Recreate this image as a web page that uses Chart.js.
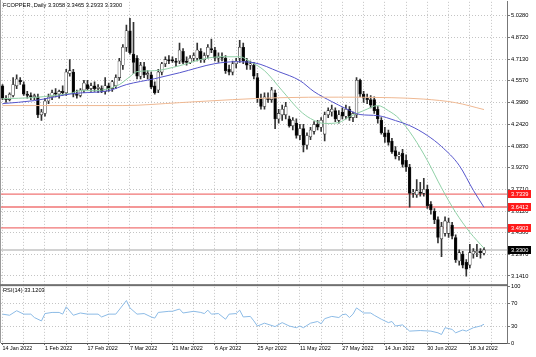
<!DOCTYPE html>
<html><head><meta charset="utf-8">
<script src="https://cdn.jsdelivr.net/npm/chart.js@4.4.1/dist/chart.umd.min.js"></script>
<style>
html,body{margin:0;padding:0;background:#fff;}
#wrap{position:relative;width:536px;height:357px;overflow:hidden;background:#fff;}
canvas{position:absolute;left:0;top:0;}
.lbl{position:absolute;font-family:"Liberation Sans",Arial,sans-serif;font-size:5.7px;color:#000;white-space:nowrap;line-height:1;}
</style></head><body>
<div id="wrap"><canvas id="c" width="536" height="357"></canvas>
<div class="lbl" id="title" style="left:3px;top:3px;"></div>
<div class="lbl" id="rsiTitle" style="left:3px;top:288px;"></div>
</div>
<script>
// ---- data ----
const tickLabels = ['14 Jan 2022','1 Feb 2022','17 Feb 2022','7 Mar 2022','21 Mar 2022','6 Apr 2022','25 Apr 2022','11 May 2022','27 May 2022','14 Jun 2022','30 Jun 2022','18 Jul 2022'];
const tickIdx = [0,12,24,36,48,60,72,84,96,108,120,132];
const gridIdx = [0,6,12,18,24,30,36,42,48,54,60,66,72,78,84,90,96,102,108,114,120,126,132,138];
const priceTicks = [5.028,4.872,4.713,4.557,4.398,4.242,4.083,3.927,3.771,3.612,3.456,3.297,3.141];
const rsiTicks = [0,30,70,100];

const open = [4.52,4.43,4.42,4.45,4.52,4.56,4.53,4.46,4.45,4.44, 4.44,4.31,4.32,4.41,4.44,4.47,4.46,4.48,4.47,4.61, 4.62,4.46,4.45,4.49,4.53,4.50,4.52,4.50,4.50,4.48, 4.52,4.50,4.52,4.58,4.67,4.80,4.92,4.75,4.72,4.59, 4.66,4.60,4.60,4.52,4.49,4.62,4.68,4.71,4.71,4.70, 4.70,4.77,4.70,4.69,4.72,4.72,4.77,4.71,4.74,4.79, 4.78,4.72,4.73,4.72,4.64,4.62,4.68,4.72,4.80,4.70, 4.67,4.67,4.58,4.43,4.37,4.43,4.42,4.47,4.28,4.31, 4.31,4.28,4.23,4.25,4.16,4.21,4.09,4.15,4.19,4.24, 4.22,4.17,4.31,4.33,4.34,4.27,4.33,4.30,4.35,4.29, 4.31,4.56,4.46,4.43,4.42,4.42,4.35,4.27,4.18,4.18, 4.12,4.05,4.01,4.03,3.98,3.93,3.74,3.73,3.75,3.74, 3.77,3.66,3.61,3.55,3.41,3.45,3.45,3.51,3.42,3.25, 3.30,3.24,3.22,3.30,3.31,3.32,3.3058];
const high = [4.53,4.45,4.47,4.58,4.60,4.58,4.55,4.48,4.47,4.46, 4.46,4.35,4.43,4.46,4.49,4.50,4.49,4.52,4.64,4.71, 4.64,4.49,4.50,4.56,4.56,4.54,4.55,4.53,4.52,4.58, 4.54,4.56,4.60,4.72,4.82,4.96,5.01,4.98,4.74,4.69, 4.69,4.63,4.62,4.55,4.64,4.69,4.73,4.74,4.73,4.72, 4.83,4.79,4.73,4.74,4.76,4.83,4.79,4.76,4.82,4.86, 4.80,4.76,4.76,4.74,4.67,4.70,4.72,4.85,4.83,4.72, 4.70,4.69,4.61,4.46,4.47,4.47,4.51,4.49,4.35,4.38, 4.40,4.30,4.29,4.28,4.24,4.24,4.18,4.22,4.26,4.27, 4.29,4.33,4.36,4.38,4.36,4.34,4.36,4.38,4.37,4.33, 4.58,4.57,4.48,4.46,4.45,4.44,4.37,4.29,4.22,4.20, 4.14,4.08,4.04,4.06,4.02,3.95,3.77,3.84,3.82,3.85, 3.80,3.68,3.63,3.57,3.53,3.57,3.56,3.53,3.44,3.33, 3.32,3.26,3.37,3.34,3.37,3.34,3.3465];
const low = [4.42,4.40,4.41,4.44,4.50,4.53,4.45,4.43,4.42,4.42, 4.29,4.27,4.30,4.39,4.42,4.44,4.43,4.45,4.45,4.59, 4.44,4.43,4.44,4.47,4.49,4.48,4.48,4.47,4.47,4.46, 4.48,4.48,4.50,4.56,4.64,4.77,4.75,4.61,4.57,4.57, 4.58,4.57,4.50,4.46,4.47,4.60,4.66,4.68,4.69,4.66, 4.68,4.68,4.67,4.68,4.70,4.70,4.69,4.69,4.72,4.76, 4.70,4.69,4.70,4.61,4.60,4.60,4.65,4.69,4.68,4.64, 4.64,4.57,4.40,4.35,4.35,4.40,4.40,4.21,4.25,4.27, 4.28,4.22,4.20,4.14,4.13,4.04,4.06,4.13,4.17,4.20, 4.19,4.12,4.29,4.30,4.26,4.25,4.28,4.28,4.27,4.26, 4.29,4.44,4.40,4.39,4.36,4.32,4.25,4.17,4.11,4.09, 4.03,3.99,3.98,3.93,3.90,3.64,3.71,3.71,3.72,3.72, 3.63,3.59,3.52,3.38,3.28,3.43,3.42,3.41,3.24,3.22, 3.20,3.14,3.20,3.27,3.28,3.27,3.2933];
const close = [4.43,4.42,4.46,4.53,4.57,4.55,4.46,4.45,4.44,4.45, 4.31,4.33,4.41,4.44,4.47,4.46,4.48,4.47,4.62,4.63, 4.46,4.45,4.49,4.54,4.50,4.52,4.50,4.51,4.48,4.52, 4.50,4.55,4.58,4.70,4.80,4.92,4.76,4.69,4.59,4.67, 4.60,4.61,4.51,4.47,4.62,4.68,4.71,4.70,4.70,4.69, 4.78,4.69,4.69,4.72,4.74,4.78,4.71,4.74,4.80,4.78, 4.72,4.73,4.72,4.63,4.62,4.68,4.70,4.80,4.70,4.67, 4.68,4.59,4.43,4.37,4.44,4.42,4.49,4.28,4.32,4.35, 4.37,4.23,4.27,4.16,4.21,4.09,4.16,4.20,4.24,4.22, 4.27,4.31,4.34,4.35,4.28,4.31,4.30,4.35,4.29,4.32, 4.56,4.46,4.43,4.42,4.38,4.34,4.28,4.18,4.15,4.11, 4.04,4.01,4.02,3.95,3.93,3.74,3.75,3.76,3.74,3.77, 3.65,3.62,3.55,3.42,3.50,3.54,3.53,3.43,3.26,3.31, 3.22,3.19,3.31,3.32,3.32,3.31,3.3300];

// moving averages, read at sample bars
const maFastIdx = [0,9,14,19,22,26,30,33,36,38,43,50,57,62,67,70,74,79,84,87,91,95,98,102,106,109,112,116,120,124,128,132,136];
const maFastVal = [4.427,4.435,4.449,4.464,4.485,4.485,4.500,4.529,4.587,4.623,4.630,4.666,4.717,4.731,4.731,4.695,4.630,4.485,4.340,4.283,4.247,4.254,4.297,4.340,4.377,4.340,4.283,4.150,3.979,3.780,3.602,3.458,3.342];
const maMidIdx = [0,9,20,30,35,43,50,60,66,71,78,84,88,93,97,101,106,111,115,120,124,129,133,136];
const maMidVal = [4.391,4.413,4.464,4.485,4.529,4.572,4.615,4.681,4.695,4.688,4.623,4.558,4.478,4.406,4.355,4.312,4.304,4.268,4.232,4.160,4.080,3.943,3.762,3.639];
const maSlowIdx = [0,34,50,65,78,95,110,119,128,136];
const maSlowVal = [4.377,4.377,4.398,4.420,4.434,4.438,4.434,4.424,4.398,4.348];

// RSI(14) read at sample bars
const rsiIdx = [0,2,4,6,8,9,11,12,14,16,17,18,20,22,24,27,28,30,32,35,36,38,40,42,43,44,47,48,50,51,54,56,57,58,59,61,63,64,66,67,68,70,71,72,74,75,77,79,81,83,84,85,87,89,90,91,93,95,96,97,98,99,100,102,104,105,107,109,110,111,113,115,118,121,123,124,125,127,128,130,131,133,135,136];
const rsiVal = [51,49,57,51,51,45,39,52,54,54,51,64,49,53,51,51,46,51,51,75,62,51,52,46,44,54,56,56,60,53,56,54,52,58,51,52,42,51,52,58,46,47,39,30,35,33,29,36,30,27,30,27,35,38,34,43,47,45,50,51,45,51,62,53,53,49,42,36,38,30,32,21,22,21,18,15,27,24,18,23,21,27,30,33.12];

const levels = [3.7339,3.6412,3.4903];
const lastPrice = 3.3300;
const symbolText = 'FCOPPER.,Daily  3.3058 3.3465 3.2933 3.3300';
const rsiText = 'RSI(14) 33.1203';

// ---- chart ----
const FONT = '"Liberation Sans", Arial, sans-serif';
const X_MIN = -0.4237, X_MAX = 142.5;
document.getElementById('title').textContent = symbolText;
document.getElementById('rsiTitle').textContent = rsiText;

const pts = (idx, val) => idx.map((x, k) => ({x, y: val[k]}));
const wickData = close.map((c, i) => ({x: i, y: [low[i], high[i]]}));
const bodyData = close.map((c, i) => ({x: i, y: [open[i], c]}));
const bodyFill = close.map((c, i) => c >= open[i] ? '#ffffff' : '#000000');

const levelSets = levels.map(l => ({
  type: 'line', yAxisID: 'y', data: [{x: X_MIN, y: l}, {x: X_MAX, y: l}],
  borderColor: '#f07474', borderWidth: 1.3, pointRadius: 0, order: 5
}));
levelSets.push({type: 'line', yAxisID: 'y', data: [{x: X_MIN, y: lastPrice}, {x: X_MAX, y: lastPrice}],
  borderColor: '#d2d2d2', borderWidth: 2, pointRadius: 0, order: 6});

const overlay = {
  id: 'overlay',
  afterDraw(chart) {
    const {ctx, chartArea, scales} = chart;
    const ys = scales.y;
    ctx.save();
    ctx.fillStyle = '#9a9a9a';
    ctx.fillRect(0, 0, 1, scales.rsi.bottom);
    ctx.fillStyle = '#707070';
    ctx.fillRect(0, ys.bottom - 1, chartArea.right + 1, 2);
    ctx.font = '5.7px ' + FONT;
    ctx.textBaseline = 'middle';
    ctx.textAlign = 'left';
    const box = (v, bg) => {
      const y = ys.getPixelForValue(v);
      ctx.fillStyle = bg;
      ctx.fillRect(chartArea.right + 1, Math.round(y) - 4, 23, 8);
      ctx.fillStyle = '#ffffff';
      ctx.fillText(v.toFixed(4), chartArea.right + 4, Math.round(y) + 0.3);
    };
    levels.forEach(l => box(l, '#ff1a1a'));
    box(lastPrice, '#000000');
    ctx.restore();
  }
};

new Chart(document.getElementById('c'), {
  data: {
    datasets: [
      {type: 'bar', yAxisID: 'y', data: wickData, backgroundColor: '#333', barThickness: 1, grouped: false, order: 2},
      {type: 'bar', yAxisID: 'y', data: bodyData, backgroundColor: bodyFill, borderColor: '#222', borderWidth: 0.6,
       borderSkipped: false, barThickness: 2.8, grouped: false, minBarLength: 1, order: 1},
      {type: 'line', yAxisID: 'y', data: pts(maSlowIdx, maSlowVal), borderColor: '#efb892', borderWidth: 1, pointRadius: 0, cubicInterpolationMode: 'monotone', order: 0},
      {type: 'line', yAxisID: 'y', data: pts(maMidIdx, maMidVal), borderColor: '#5656cc', borderWidth: 1, pointRadius: 0, cubicInterpolationMode: 'monotone', order: 0},
      {type: 'line', yAxisID: 'y', data: pts(maFastIdx, maFastVal), borderColor: '#8fd0a6', borderWidth: 1, pointRadius: 0, cubicInterpolationMode: 'monotone', order: 0},
      ...levelSets,
      {type: 'line', yAxisID: 'rsi', data: pts(rsiIdx, rsiVal), borderColor: '#8cbbe6', borderWidth: 1, pointRadius: 0, tension: 0, order: 0}
    ]
  },
  options: {
    responsive: false, animation: false, devicePixelRatio: 1,
    layout: {padding: {top: 1, left: 1, right: 0, bottom: 0}},
    plugins: {legend: {display: false}, tooltip: {enabled: false}},
    events: [],
    scales: {
      x: {
        type: 'linear', min: X_MIN, max: X_MAX, offset: false,
        afterBuildTicks: s => { s.ticks = gridIdx.map(v => ({value: v})); },
        afterFit: s => { s.height = 14; },
        ticks: {align: 'start', autoSkip: false, maxRotation: 0, padding: 1, color: '#000',
          font: {family: FONT, size: 5.4, lineHeight: 1},
          callback: v => { const k = tickIdx.indexOf(v); return k >= 0 ? tickLabels[k] : ''; }},
        grid: {offset: false, color: '#c4c4c4', tickColor: '#666', tickLength: 2, tickBorderDash: [], borderDash: [1, 2]},
        border: {display: true, color: '#555', width: 1, dash: [1, 2]}
      },
      y: {
        type: 'linear', position: 'right', stack: 'p', stackWeight: 284, min: 3.0743, max: 5.1293,
        afterBuildTicks: s => { s.ticks = priceTicks.map(v => ({value: v})); },
        afterFit: s => { s.width = 29; },
        ticks: {autoSkip: false, padding: 1, color: '#000', font: {family: FONT, size: 5.7, lineHeight: 0.3},
          callback: v => Number(v).toFixed(4)},
        grid: {color: '#c4c4c4', tickColor: '#777', tickLength: 3, tickBorderDash: [], borderDash: [1, 2]},
        border: {display: true, color: '#777', width: 1, dash: [1, 2]}
      },
      rsi: {
        type: 'linear', position: 'right', stack: 'p', stackWeight: 58, min: 0, max: 102.2,
        afterBuildTicks: s => { s.ticks = rsiTicks.map(v => ({value: v})); },
        afterFit: s => { s.width = 29; },
        ticks: {autoSkip: false, padding: 1, color: '#000', font: {family: FONT, size: 5.7, lineHeight: 0.3},
          callback: v => String(v)},
        grid: {color: c => (c.tick && (c.tick.value === 30 || c.tick.value === 70)) ? '#c4c4c4' : 'rgba(0,0,0,0)',
          tickColor: '#777', tickLength: 3, tickBorderDash: [], borderDash: [1, 2]},
        border: {display: true, color: '#777', width: 1, dash: [1, 2]}
      }
    }
  },
  plugins: [overlay]
});
</script>
</body></html>
